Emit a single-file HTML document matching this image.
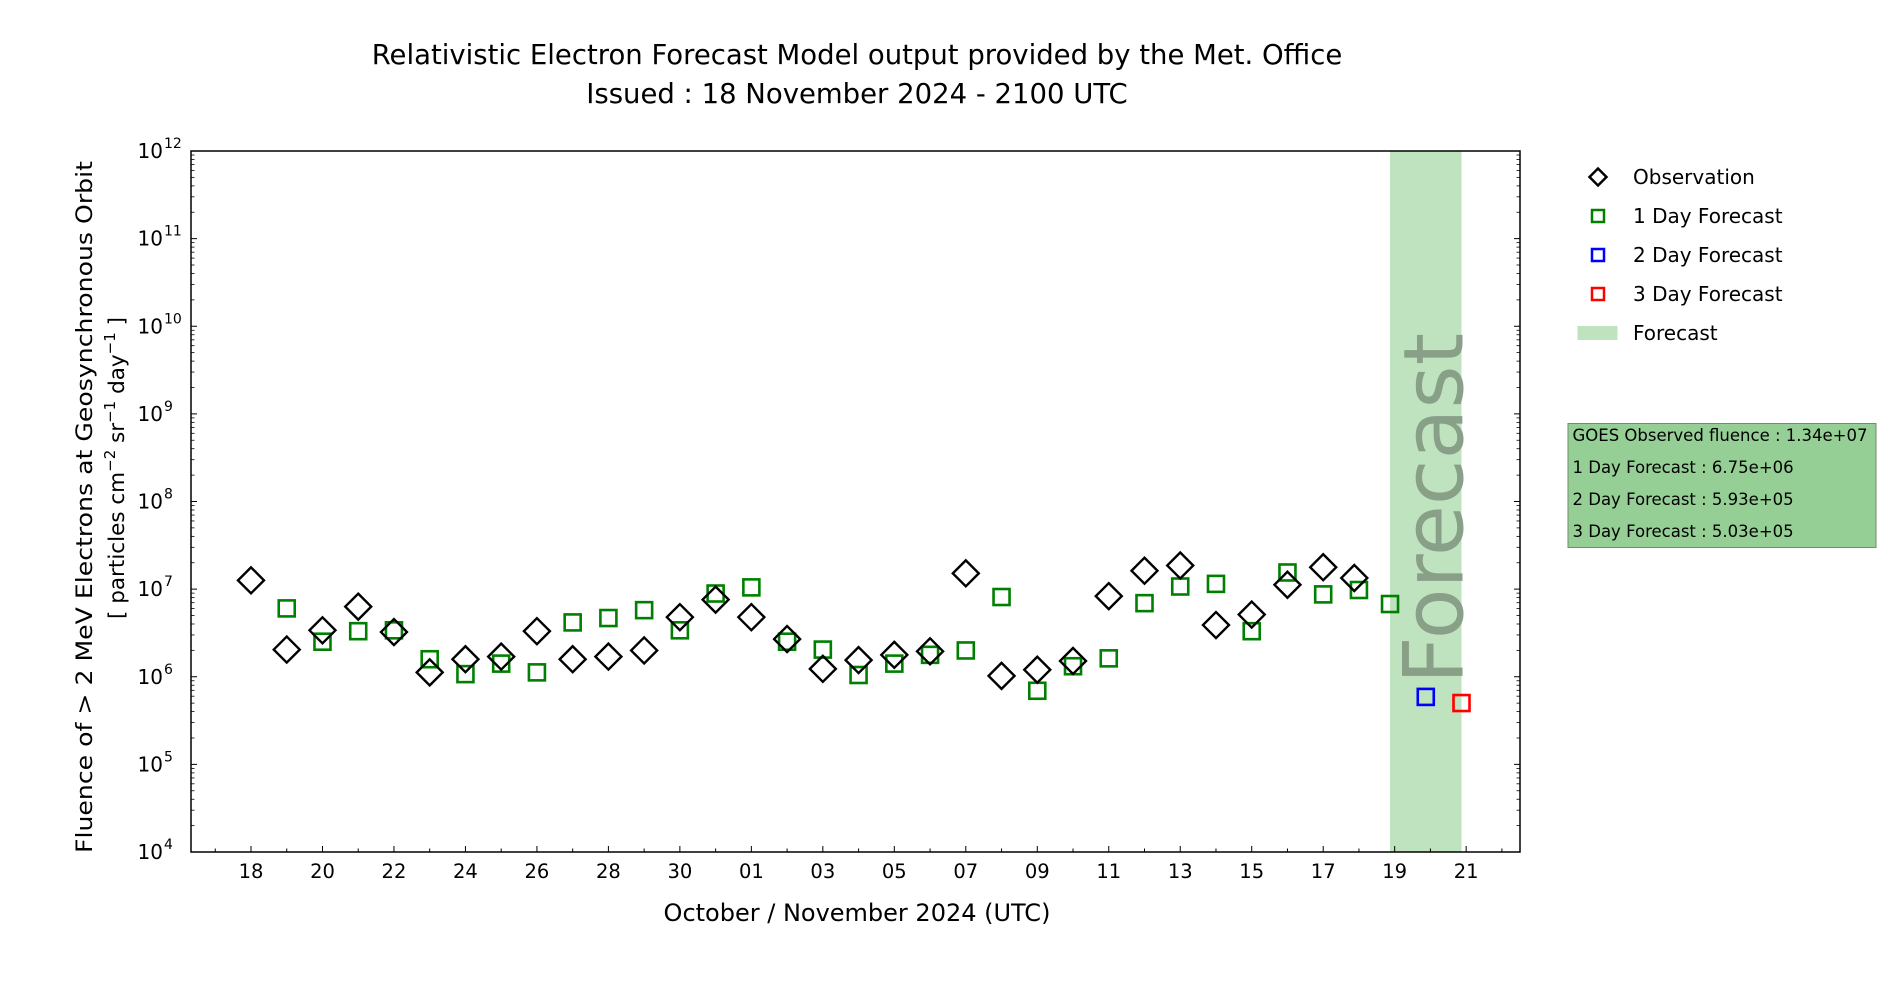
<!DOCTYPE html>
<html><head><meta charset="utf-8"><style>
html,body{margin:0;padding:0;background:#fff;}
svg{display:block;font-family:"DejaVu Sans","Liberation Sans",sans-serif;}
</style></head><body>
<svg id="chart" width="1900" height="1000" viewBox="0 0 1900 1000" xmlns="http://www.w3.org/2000/svg">
<text x="857" y="64" font-size="27.5" text-anchor="middle">Relativistic Electron Forecast Model output provided by the Met. Office</text>
<text x="857" y="103" font-size="27.5" text-anchor="middle">Issued : 18 November 2024 - 2100 UTC</text>
<g id="plot"></g>
<text x="857" y="921" font-size="24" text-anchor="middle">October / November 2024 (UTC)</text>
<text transform="translate(92,507) rotate(-90)" font-size="22" text-anchor="middle" textLength="692" lengthAdjust="spacingAndGlyphs">Fluence of &gt; 2 MeV Electrons at Geosynchronous Orbit</text>
<text transform="translate(124,468) rotate(-90)" font-size="21.5" text-anchor="middle">[ particles cm<tspan font-size="15" dy="-9">−2</tspan><tspan dy="9"> sr</tspan><tspan font-size="15" dy="-9">−1</tspan><tspan dy="9"> day</tspan><tspan font-size="15" dy="-9">−1</tspan><tspan dy="9"> ]</tspan></text>
<g>
  <rect x="1592" y="171" width="12" height="12" fill="none" stroke="#000" stroke-width="2.5" transform="rotate(45 1598 177)"/>
  <text x="1633" y="184" font-size="20">Observation</text>
  <rect x="1592" y="210" width="12" height="12" fill="none" stroke="#008000" stroke-width="2.5"/>
  <text x="1633" y="223" font-size="20">1 Day Forecast</text>
  <rect x="1592" y="249" width="12" height="12" fill="none" stroke="#0000ff" stroke-width="2.5"/>
  <text x="1633" y="262" font-size="20">2 Day Forecast</text>
  <rect x="1592" y="288" width="12" height="12" fill="none" stroke="#ff0000" stroke-width="2.5"/>
  <text x="1633" y="301" font-size="20">3 Day Forecast</text>
  <rect x="1577.5" y="326" width="40" height="14" fill="#bfe3bf"/>
  <text x="1633" y="340" font-size="20">Forecast</text>
</g>
<g>
  <rect x="1568" y="423.5" width="308" height="124" fill="#95cf95" stroke="#6e8e6e" stroke-width="1"/>
  <text x="1572.5" y="441" font-size="16.5">GOES Observed fluence : 1.34e+07</text>
  <text x="1572.5" y="473" font-size="16.5">1 Day Forecast : 6.75e+06</text>
  <text x="1572.5" y="505" font-size="16.5">2 Day Forecast : 5.93e+05</text>
  <text x="1572.5" y="537" font-size="16.5">3 Day Forecast : 5.03e+05</text>
</g>
</svg>
<script>
// data: day offsets from 18 Oct 2024, values as log10 fluence
const obsDays = [0,1,2,3,4,5,6,7,8,9,10,11,12,13,14,15,16,17,18,19,20,21,22,23,24,25,26,27,28,29,30,30.87];
const obsLog = [7.10,6.31,6.53,6.80,6.51,6.05,6.20,6.23,6.52,6.20,6.23,6.30,6.68,6.88,6.68,6.43,6.09,6.19,6.25,6.29,7.18,6.01,6.08,6.18,6.92,7.21,7.27,6.59,6.71,7.05,7.25,7.127];
const f1Days = [1,2,3,4,5,6,7,8,9,10,11,12,13,14,15,16,17,18,19,20,21,22,23,24,25,26,27,28,29,30,31,31.87];
const f1Log = [6.78,6.40,6.52,6.53,6.20,6.03,6.15,6.05,6.62,6.67,6.76,6.53,6.95,7.02,6.40,6.31,6.02,6.15,6.25,6.30,6.91,5.84,6.12,6.21,6.84,7.03,7.06,6.52,7.19,6.94,6.99,6.83];
const f2Days = [32.87];
const f2Log = [5.77];
const f3Days = [33.87];
const f3Log = [5.70];
const bandRange = [31.87, 33.87];
const xTickLabels = ["18","20","22","24","26","28","30","01","03","05","07","09","11","13","15","17","19","21"];
const yTickExps = [4,5,6,7,8,9,10,11,12];

const NS = "http://www.w3.org/2000/svg";
const L = 191, R = 1520, T = 151, B = 852;
const X0 = 251, DX = 35.74;
const xs = d => X0 + d * DX;
const ys = lv => B - (lv - 4) * (B - T) / 8;
const g = document.getElementById('plot');
function mk(tag, attrs, parent) {
  const e = document.createElementNS(NS, tag);
  for (const k in attrs) e.setAttribute(k, attrs[k]);
  (parent || g).appendChild(e);
  return e;
}
const band = mk('rect', {x: xs(bandRange[0]), y: T, width: xs(bandRange[1]) - xs(bandRange[0]), height: B - T, fill: '#bfe3bf'});


const bt = mk('text', {transform: `translate(${xs(bandRange[1]) + 1},684) rotate(-90)`, 'font-size': 83, fill: '#889f88'});
bt.textContent = 'Forecast';


const frame = mk('rect', {x: L, y: T, width: R - L, height: B - T, fill: 'none', stroke: '#000', 'stroke-width': 1.5});


for (let d = -1; d <= 35; d++) {
  const x = xs(d);
  if (x <= L || x >= R) continue;
  const major = d % 2 === 0;
  const t = mk('line', {x1: x, x2: x, y1: B, y2: B - (major ? 6 : 3.5), stroke: '#000', 'stroke-width': 1});
  
  
}
xTickLabels.forEach((lab, i) => {
  const t = mk('text', {x: xs(i * 2), y: 878, 'font-size': 19.5, 'text-anchor': 'middle'});
  t.textContent = lab;
  
  
});
yTickExps.forEach(e => {
  const y = ys(e);
  [[L, L + 6], [R, R - 6]].forEach(p => {
    const t = mk('line', {x1: p[0], x2: p[1], y1: y, y2: y, stroke: '#000', 'stroke-width': 1});
    
    
  });
  if (e < 12) for (let m = 2; m <= 9; m++) {
    const ym = ys(e + Math.log10(m));
    [[L, L + 3.5], [R, R - 3.5]].forEach(p => {
      const t = mk('line', {x1: p[0], x2: p[1], y1: ym, y2: ym, stroke: '#000', 'stroke-width': 0.8});
      
      
    });
  }
  const lab = mk('text', {x: 163, y: y + 7, 'font-size': 20, 'text-anchor': 'end'});
  lab.textContent = '10';
  
  
  const sup = mk('text', {x: 164, y: y - 3, 'font-size': 14, 'text-anchor': 'start'});
  sup.textContent = String(e);
  
  
});
function squares(days, vals, color, name) {
  days.forEach((d, i) => {
    const x = xs(d), y = ys(vals[i]);
    const s = mk('rect', {x: x - 8, y: y - 8, width: 16, height: 16, fill: 'none', stroke: color, 'stroke-width': 2.6});
    
    
  });
}
squares(f1Days, f1Log, '#008000', 'forecast-1day-point');
obsDays.forEach((d, i) => {
  const x = xs(d), y = ys(obsLog[i]);
  const p = mk('polygon', {points: `${x},${y-13} ${x+13},${y} ${x},${y+13} ${x-13},${y}`, fill: 'none', stroke: '#000', 'stroke-width': 2.4});
  
  
});
squares(f2Days, f2Log, '#0000ff', 'forecast-2day-point');
squares(f3Days, f3Log, '#ff0000', 'forecast-3day-point');
</script>
</body></html>
